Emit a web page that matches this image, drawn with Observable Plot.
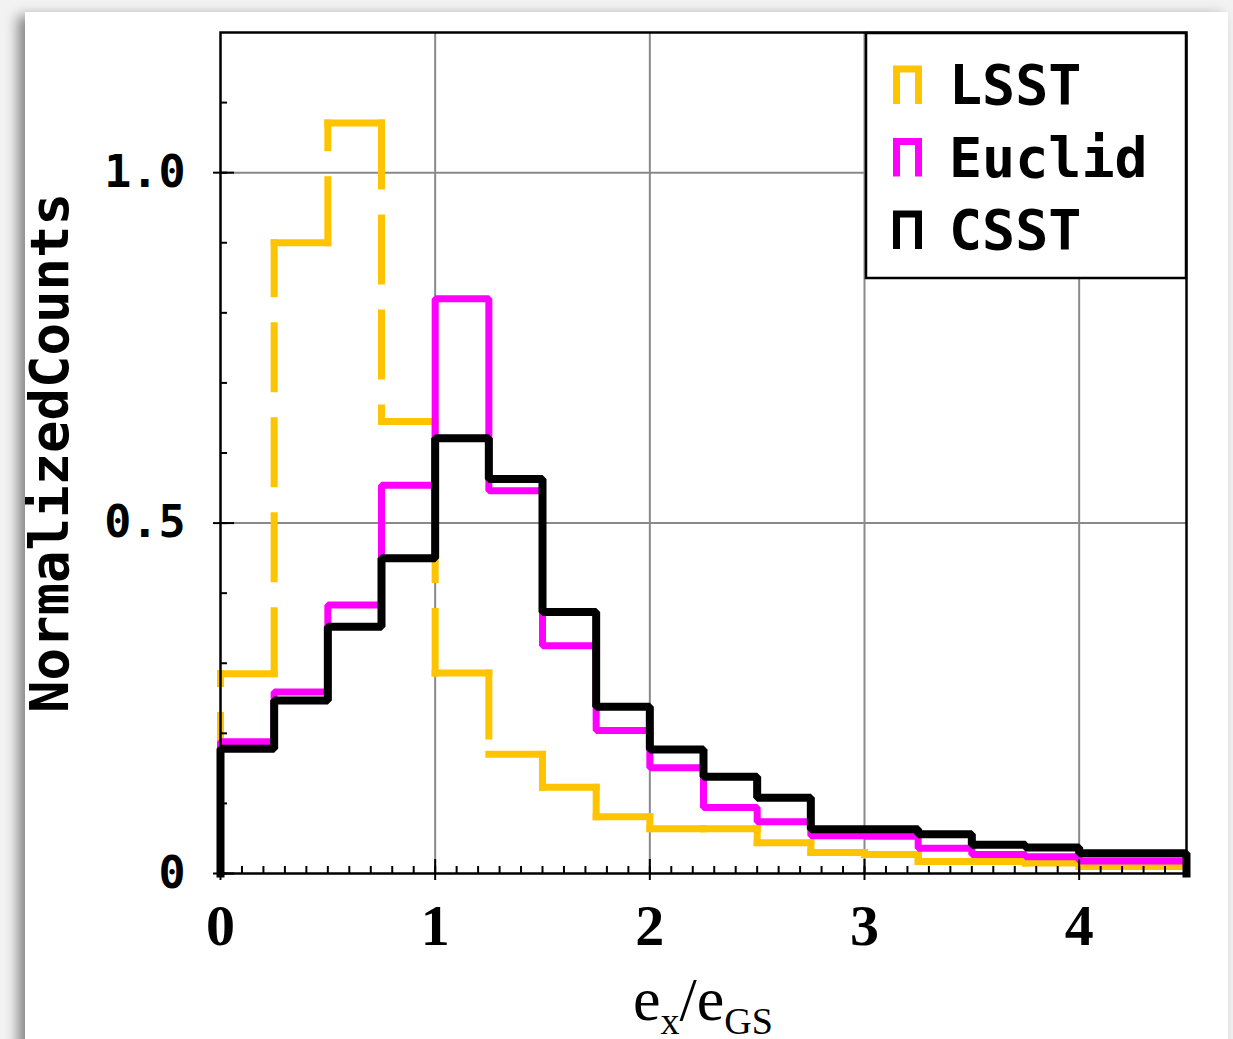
<!DOCTYPE html>
<html>
<head>
<meta charset="utf-8">
<script src="https://cdn.jsdelivr.net/npm/d3@7"></script>
<script src="https://cdn.jsdelivr.net/npm/@observablehq/plot@0.6"></script>
<style>
  html, body { margin: 0; padding: 0; }
  body {
    width: 1233px; height: 1039px; overflow: hidden; position: relative;
    background: #f2f2f2;
  }
  #card {
    position: absolute; left: 25px; top: 12px; width: 1203px; height: 1100px;
    background: #fff;
    box-shadow: -7px 4px 12px rgba(0,0,0,0.45);
  }
  #chart { position: absolute; left: 0; top: 0; }
</style>
</head>
<body>
<div id="card"></div>
<div id="chart"></div>
<script>
// Histogram bin edges (width 0.25) for e_x / e_GS
const binEdges = [0, 0.25, 0.5, 0.75, 1, 1.25, 1.5, 1.75, 2, 2.25, 2.5, 2.75, 3, 3.25, 3.5, 3.75, 4, 4.25, 4.5];

// Normalized counts per bin
const lsst   = [0.285, 0.900, 1.071, 0.645, 0.286, 0.170, 0.123, 0.081, 0.064, 0.064, 0.044, 0.030, 0.027, 0.017, 0.017, 0.015, 0.010, 0.010];
const euclid = [0.188, 0.259, 0.383, 0.554, 0.820, 0.546, 0.325, 0.204, 0.151, 0.094, 0.074, 0.054, 0.053, 0.036, 0.027, 0.024, 0.018, 0.018];
const csst   = [0.178, 0.247, 0.352, 0.450, 0.621, 0.563, 0.373, 0.238, 0.177, 0.138, 0.108, 0.063, 0.063, 0.056, 0.041, 0.037, 0.029, 0.029];

const seriesNames  = ["LSST", "Euclid", "CSST"];
const seriesColors = ["#ffc400", "#ff00ff", "#000000"];

// Axis ticks
const xMajorTicks = [0, 1, 2, 3, 4];
const xTickLabels = ["0", "1", "2", "3", "4"];
const yMajorTicks = [0, 0.5, 1.0];
const yTickLabels = ["0", "0.5", "1.0"];
const xMinorTicks = d3.range(0, 46).map(i => i / 10);
const yMinorTicks = d3.range(0, 12).map(i => i / 10);
const gridX = [1, 2, 3, 4];
const gridY = [0.5, 1.0];

// Step outline: rise from 0 at the first edge, fall back to 0 at the last edge
function stepPoints(values) {
  const pts = [{x: binEdges[0], y: 0}];
  values.forEach((v, i) => pts.push({x: binEdges[i], y: v}));
  pts.push({x: binEdges[binEdges.length - 1], y: values[values.length - 1]});
  pts.push({x: binEdges[binEdges.length - 1], y: 0});
  return pts;
}

// Outline as separate segments, so each segment carries its own dash phase
function stepSegments(values) {
  const segs = [];
  values.forEach((v, i) => {
    const prev = i === 0 ? 0 : values[i - 1];
    segs.push({x1: binEdges[i], y1: prev, x2: binEdges[i], y2: v});
    segs.push({x1: binEdges[i], y1: v, x2: binEdges[i + 1], y2: v});
  });
  const last = values[values.length - 1];
  const xe = binEdges[binEdges.length - 1];
  segs.push({x1: xe, y1: last, x2: xe, y2: 0});
  return segs;
}

const mono = "DejaVu Sans Mono, monospace";
const serif = "Liberation Serif, Times New Roman, serif";

const chart = Plot.plot({
  width: 1233,
  height: 1039,
  marginLeft: 220,
  marginRight: 47,
  marginTop: 32,
  marginBottom: 166,
  style: {background: "none", overflow: "visible"},
  x: {domain: [0, 4.5], label: null},
  y: {domain: [0, 1.2], label: null},
  marks: [
    Plot.gridX(gridX, {stroke: "#8a8a8a", strokeOpacity: 1, strokeWidth: 2}),
    Plot.gridY(gridY, {stroke: "#8a8a8a", strokeOpacity: 1, strokeWidth: 2}),

    Plot.link(stepSegments(lsst), {
      x1: "x1", y1: "y1", x2: "x2", y2: "y2",
      stroke: seriesColors[0], strokeWidth: 7,
      strokeLinecap: "square", strokeDasharray: "63,32"
    }),
    Plot.line(stepPoints(euclid), {
      x: "x", y: "y", curve: "step-after",
      stroke: seriesColors[1], strokeWidth: 7,
      strokeLinejoin: "miter", strokeLinecap: "square"
    }),
    Plot.line(stepPoints(csst), {
      x: "x", y: "y", curve: "step-after",
      stroke: seriesColors[2], strokeWidth: 8,
      strokeLinejoin: "miter", strokeLinecap: "square"
    }),

    // minor ticks point inward, major ticks cross the frame
    Plot.axisX(xMinorTicks, {tickSize: 7, dy: -7, tickFormat: () => "", strokeWidth: 2}),
    Plot.axisX(xMajorTicks, {tickSize: 21, dy: -14, tickFormat: () => "", strokeWidth: 2}),
    Plot.axisX(xMajorTicks, {
      tickSize: 0, tickPadding: 30,
      tickFormat: (d, i) => xTickLabels[i],
      fontSize: 58, fontFamily: serif, fontWeight: "bold", fill: "black"
    }),
    Plot.axisY(yMinorTicks, {tickSize: 7, dx: 7, tickFormat: () => "", strokeWidth: 2}),
    Plot.axisY(yMajorTicks, {tickSize: 21, dx: 14, tickFormat: () => "", strokeWidth: 2}),
    Plot.axisY(yMajorTicks, {
      tickSize: 0, tickPadding: 35,
      tickFormat: (d, i) => yTickLabels[i],
      fontSize: 45, fontFamily: mono, fontWeight: "bold", fill: "black"
    }),

    Plot.text(["NormalizedCounts"], {
      frameAnchor: "left", textAnchor: "middle", dx: -170, rotate: -90,
      fontSize: 54, fontFamily: mono, fontWeight: "bold", fill: "black"
    }),

    Plot.frame({stroke: "black", strokeWidth: 2.5})
  ]
});

document.getElementById("chart").appendChild(chart);

const svg = d3.select(chart);

// x-axis title with subscripts
const xs = chart.scale("x");
const xt = svg.append("text")
  .attr("x", (xs.range[0] + xs.range[1]) / 2)
  .attr("y", 1020)
  .attr("text-anchor", "middle")
  .attr("font-family", serif)
  .attr("font-size", 62)
  .attr("fill", "black");
xt.append("tspan").text("e");
xt.append("tspan").attr("font-size", 38).attr("dy", 14).text("x");
xt.append("tspan").attr("dy", -14).text("/");
xt.append("tspan").text("e");
xt.append("tspan").attr("font-size", 38).attr("dy", 14).text("GS");

// Legend box in the upper-right corner of the frame
const lx = 866, ly = 33, lw = xs.range[1] - 866, lh = 245;
const lg = svg.append("g");
lg.append("rect").attr("x", lx).attr("y", ly).attr("width", lw).attr("height", lh)
  .attr("fill", "white").attr("stroke", "black").attr("stroke-width", 2.5);
seriesNames.forEach((name, i) => {
  const base = 104 + i * 72.5;
  lg.append("path")
    .attr("d", `M896.5,${base} V${base - 35} H918.5 V${base}`)
    .attr("fill", "none").attr("stroke", seriesColors[i]).attr("stroke-width", 7)
    .attr("stroke-linejoin", "miter");
  lg.append("text")
    .attr("x", 949).attr("y", base)
    .attr("text-anchor", "start")
    .attr("font-family", mono).attr("font-weight", "bold").attr("font-size", 55)
    .attr("fill", "black")
    .text(name);
});
</script>
</body>
</html>
